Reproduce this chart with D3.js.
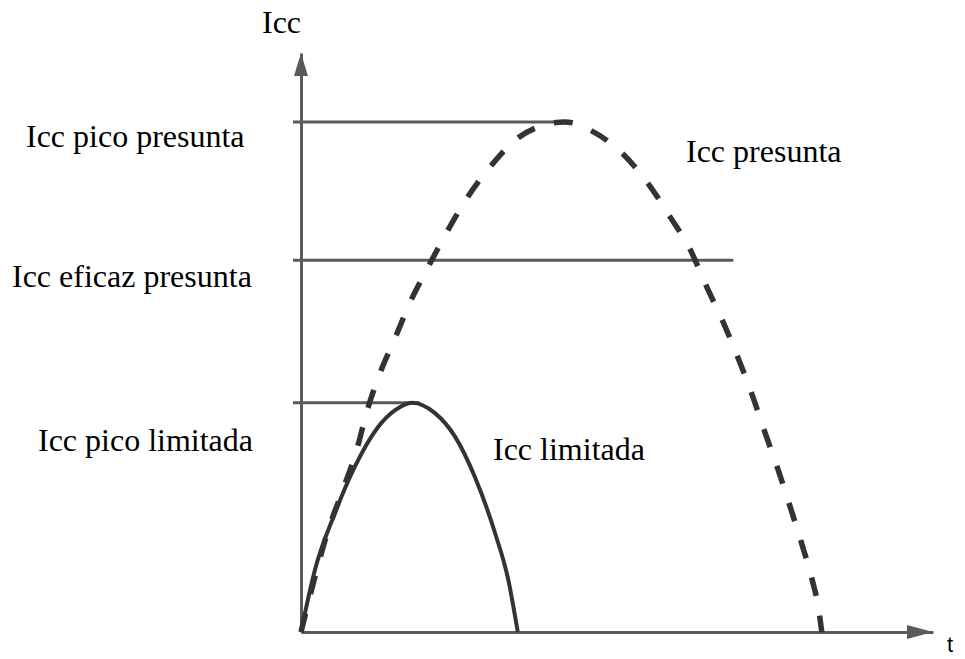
<!DOCTYPE html>
<html>
<head>
<meta charset="utf-8">
<script src="https://cdn.jsdelivr.net/npm/d3@7"></script>
<style>
  html, body { margin: 0; padding: 0; background: #fff; }
  svg { display: block; }
  text { font-family: "Liberation Serif", "Times New Roman", serif; fill: #000; }
</style>
</head>
<body>
<svg id="chart" width="965" height="659"></svg>
<script>
// Reference current levels (arbitrary units, 0-100 of full scale)
const levelNames  = ["Icc pico presunta", "Icc eficaz presunta", "Icc pico limitada"];
const levelValues = [88.1, 64.2, 39.6];
const levelEndT   = [42.6, 68.4, 18.8];

// Prospective short-circuit current (dashed half-wave)
const presuntaT = [0, 2.5, 4.3, 6.5, 8.9, 10.4, 12.5, 14.9, 17.2, 20.1, 23.1, 26.3, 29.9, 34.3, 38.6, 41.8,
                   45.7, 50.8, 54.9, 58.4, 61.6, 64.2, 66.8, 69.1, 71.4, 73.4, 75.5, 77.4, 79.3, 81.0, 81.8, 82.4];
const presuntaI = [0, 10.7, 17.6, 24.2, 31.8, 38.0, 44.7, 50.8, 56.8, 63.0, 69.1, 75.0, 80.3, 85.3, 87.6, 88.1,
                   86.7, 82.7, 77.5, 71.7, 66.0, 59.6, 53.5, 47.5, 40.9, 34.5, 28.0, 21.6, 15.0, 8.5, 4.7, 0];

// Limited (let-through) current (solid)
const limitadaT = [0, 2.2, 5.4, 8.5, 12.2, 14.9, 17.6, 21.2, 24.4, 27.5, 30.7, 32.8, 34.3];
const limitadaI = [0, 10.7, 20.6, 28.5, 35.4, 38.3, 39.6, 37.8, 33.7, 26.8, 17.1, 9.0, 0];

const curveLabels = ["Icc presunta", "Icc limitada"];
const axisLabels  = ["Icc", "t"];

const svg = d3.select("#chart");
const x = d3.scaleLinear().domain([0, 100]).range([301, 933]);
const y = d3.scaleLinear().domain([0, 100]).range([632, 53]);

const axisColor = "#5a5a5a";
const inkColor  = "#333";

// Horizontal reference lines, starting slightly left of the vertical axis
svg.append("g").selectAll("line")
  .data(levelValues)
  .join("line")
  .attr("x1", x(0) - 8)
  .attr("x2", (d, i) => x(levelEndT[i]))
  .attr("y1", d => y(d))
  .attr("y2", d => y(d))
  .attr("stroke", axisColor)
  .attr("stroke-width", 3);

// Axes (no ticks, just the domain lines)
const xAxis = svg.append("g")
  .attr("transform", `translate(0,${y(0)})`)
  .call(d3.axisBottom(x).tickValues([]).tickSizeOuter(0));
const yAxis = svg.append("g")
  .attr("transform", `translate(${x(0)},0)`)
  .call(d3.axisLeft(y).tickValues([]).tickSizeOuter(0));
[xAxis, yAxis].forEach(g => g.select(".domain")
  .attr("stroke", axisColor).attr("stroke-width", 3));

// Arrow heads at the axis ends
const xTip = x(100), yTip = y(100);
svg.append("path")
  .attr("d", `M${xTip},${y(0)} L${xTip - 26},${y(0) - 7} L${xTip - 26},${y(0) + 7} Z`)
  .attr("fill", axisColor);
svg.append("path")
  .attr("d", `M${x(0)},${yTip} L${x(0) - 7},${yTip + 23} L${x(0) + 7},${yTip + 23} Z`)
  .attr("fill", axisColor);

const line = d3.line()
  .x(d => x(d[0]))
  .y(d => y(d[1]))
  .curve(d3.curveMonotoneX);

// Prospective current, dashed
svg.append("path")
  .datum(presuntaT.map((t, i) => [t, presuntaI[i]]))
  .attr("d", line)
  .attr("fill", "none")
  .attr("stroke", inkColor)
  .attr("stroke-width", 5.5)
  .attr("stroke-dasharray", "19 20");

// Limited current, solid
svg.append("path")
  .datum(limitadaT.map((t, i) => [t, limitadaI[i]]))
  .attr("d", line)
  .attr("fill", "none")
  .attr("stroke", inkColor)
  .attr("stroke-width", 4);

// Level labels to the left of the vertical axis
const levelLabelX  = [26, 12, 38];
const levelLabelDy = [25, 27, 48];
svg.append("g").selectAll("text")
  .data(levelNames)
  .join("text")
  .attr("x", (d, i) => levelLabelX[i])
  .attr("y", (d, i) => y(levelValues[i]) + levelLabelDy[i])
  .attr("font-size", 32)
  .text(d => d);

// Curve labels
svg.append("text")
  .attr("x", 686).attr("y", 162)
  .attr("font-size", 32)
  .text(curveLabels[0]);
svg.append("text")
  .attr("x", 493).attr("y", 460)
  .attr("font-size", 32)
  .text(curveLabels[1]);

// Axis titles
svg.append("text")
  .attr("x", 262).attr("y", 33)
  .attr("font-size", 32)
  .text(axisLabels[0]);
svg.append("text")
  .attr("x", 947).attr("y", 652)
  .attr("font-size", 22)
  .style("font-family", "'Liberation Sans', Arial, sans-serif")
  .text(axisLabels[1]);
</script>
</body>
</html>
